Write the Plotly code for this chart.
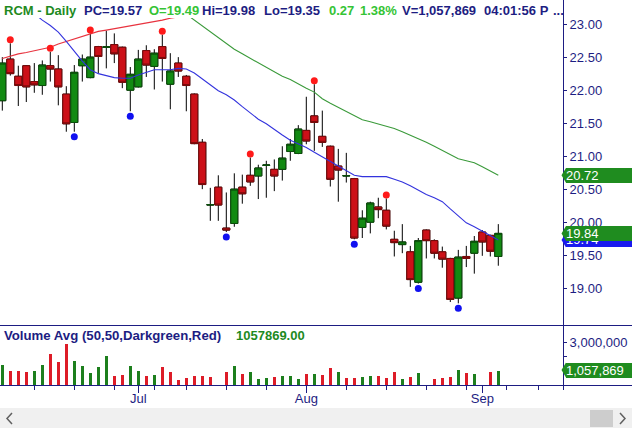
import plotly.graph_objects as go
import datetime as _dt

# ---------------- data ----------------
dates = ["2021-06-08","2021-06-09","2021-06-10","2021-06-11","2021-06-14","2021-06-15","2021-06-16",
         "2021-06-17","2021-06-18","2021-06-21","2021-06-22","2021-06-23","2021-06-24","2021-06-25",
         "2021-06-28","2021-06-29","2021-06-30","2021-07-01","2021-07-02","2021-07-06","2021-07-07",
         "2021-07-08","2021-07-09","2021-07-12","2021-07-13","2021-07-14","2021-07-15","2021-07-16",
         "2021-07-19","2021-07-20","2021-07-21","2021-07-22","2021-07-23","2021-07-26","2021-07-27",
         "2021-07-28","2021-07-29","2021-07-30","2021-08-02","2021-08-03","2021-08-04","2021-08-05",
         "2021-08-06","2021-08-09","2021-08-10","2021-08-11","2021-08-12","2021-08-13","2021-08-16",
         "2021-08-17","2021-08-18","2021-08-19","2021-08-20","2021-08-23","2021-08-24","2021-08-25",
         "2021-08-26","2021-08-27","2021-08-30","2021-08-31","2021-09-01","2021-09-02","2021-09-03"]
future_dates = ["2021-09-07","2021-09-08","2021-09-09","2021-09-10","2021-09-13","2021-09-14"]

opens = [21.85,22.48,22.22,22.38,22.14,22.08,22.38,22.33,21.95,21.52,22.38,22.20,22.67,22.66,
         22.70,22.66,22.01,22.06,22.61,22.37,22.67,22.10,22.42,22.22,21.95,21.22,20.27,20.54,
         19.92,19.99,20.54,20.72,20.71,20.87,20.81,20.81,21.08,21.05,21.40,21.62,21.31,21.16,
         20.86,20.71,20.67,19.93,20.01,20.24,20.19,19.75,19.67,19.56,19.10,19.89,19.73,19.56,
         19.46,18.86,19.49,19.54,19.86,19.81,19.49]
highs = [22.51,22.72,22.38,22.39,22.42,22.46,22.59,22.54,22.07,22.39,22.55,22.87,22.68,22.91,
         22.87,22.67,22.36,22.62,22.69,22.63,22.85,22.57,22.51,22.24,21.96,21.27,20.53,20.72,
         20.46,20.75,20.73,20.99,20.88,20.94,20.96,21.16,21.27,21.48,21.91,22.10,21.70,21.17,
         21.12,21.06,20.68,20.19,20.32,20.38,20.37,19.88,19.98,19.65,19.77,19.90,19.75,19.64,
         19.47,19.59,19.65,19.80,19.89,19.82,19.98]
lows = [21.70,22.23,21.77,21.83,21.97,21.94,22.14,21.78,21.38,21.38,22.14,22.19,22.27,22.34,
        22.42,22.04,21.69,22.05,22.21,22.02,22.14,21.72,22.21,21.69,21.19,20.51,20.03,20.03,
        19.86,19.94,20.29,20.56,20.36,20.38,20.48,20.64,20.94,21.04,21.19,21.09,21.15,20.55,
        20.32,20.61,19.75,19.77,19.84,20.07,19.90,19.49,19.54,19.03,19.08,19.46,19.46,19.32,
        18.80,18.78,19.33,19.23,19.50,19.49,19.35]
closes = [22.42,22.26,22.08,22.06,22.09,22.39,22.33,22.06,21.50,22.28,22.48,22.51,22.52,22.665,
          22.56,22.13,22.25,22.48,22.39,22.57,22.49,22.30,22.30,22.08,21.20,20.58,20.275,20.27,
          19.89,20.51,20.44,20.62,20.83,20.875,20.71,20.98,21.19,21.42,21.24,21.52,21.22,20.66,
          20.80,20.715,19.77,20.07,20.30,20.20,19.95,19.70,19.71,19.14,19.73,19.73,19.54,19.45,
          18.84,19.48,19.46,19.72,19.71,19.57,19.84]

# moving averages (None = outside the visible price window)
ma_blue = [23.56,23.47,23.38,23.27,23.17,23.07,22.99,22.89,22.75,22.60,22.45,22.32,22.26,22.23,
           22.20,22.19,22.19,22.24,22.28,22.32,22.32,22.32,22.34,22.33,22.27,22.18,22.09,22.00,
           21.94,21.86,21.76,21.67,21.57,21.50,21.41,21.33,21.25,21.20,21.14,21.07,21.00,20.93,
           20.86,20.79,20.72,20.70,20.70,20.70,20.70,20.66,20.62,20.56,20.49,20.43,20.38,20.32,
           20.21,20.10,20.00,19.94,19.87,19.81,19.74]
ma_green = [None]*23 + [23.16,23.07,22.98,22.89,22.81,22.72,22.63,22.56,22.49,22.42,22.35,22.28,
           22.22,22.17,22.10,22.04,21.98,21.88,21.81,21.75,21.69,21.63,21.56,21.53,21.50,21.47,
           21.43,21.38,21.33,21.28,21.22,21.16,21.10,21.03,20.97,20.94,20.91,20.85,20.78,20.72]
ma_red = [22.49,22.53,22.56,22.58,22.61,22.63,22.66,22.71,22.75,22.79,22.83,22.87,22.90,22.92,
          22.94,22.97,22.99,23.00,23.03,23.05,23.07,23.10,23.12] + [None]*40

pivot_highs = [1, 6, 11, 20, 31, 39, 48]
pivot_lows = [9, 16, 28, 44, 52, 57]

volumes = [1.48e6,1.05e6,1.00e6,0.93e6,1.00e6,1.48e6,2.24e6,1.67e6,2.90e6,1.71e6,1.36e6,0.88e6,
           1.29e6,2.07e6,0.69e6,0.76e6,1.36e6,1.00e6,0.69e6,0.71e6,1.29e6,0.93e6,0.36e6,0.52e6,
           0.64e6,0.64e6,0.57e6,None,0.95e6,1.36e6,0.81e6,0.93e6,0.45e6,0.52e6,0.57e6,0.69e6,
           0.69e6,0.48e6,0.81e6,0.81e6,0.76e6,1.24e6,0.93e6,0.52e6,0.52e6,0.60e6,0.64e6,0.64e6,
           0.52e6,0.95e6,0.45e6,0.60e6,0.88e6,None,0.45e6,0.52e6,0.60e6,1.07e6,0.88e6,0.81e6,
           None,0.95e6,1057869]
vol_up = [1,0,0,0,1,1,0,0,0,1,1,1,1,1,0,0,1,1,0,1,0,0,0,0,0,0,0,0,0,1,0,1,1,1,0,1,1,1,0,1,0,0,
          1,0,0,1,1,0,0,0,1,0,1,0,0,0,0,1,0,1,0,0,1]

price_ticks = [19.0, 19.5, 20.0, 20.5, 21.0, 21.5, 22.0, 22.5, 23.0]
last_close = 19.84
last_blue = 19.74
last_green = 20.72
last_volume = 1057869

header = [("RCM - Daily", 2, "dk"), ("PC=19.57", 82, "nv"), ("O=19.49", 147, "lt"),
          ("Hi=19.98", 200, "nv"), ("Lo=19.35", 262, "nv"), ("0.27", 327, "lt"),
          ("1.38%", 358, "lt"), ("V=1,057,869", 400, "nv"), ("04:01:56 P", 482, "nv"),
          ("...", 551, "nv")]

# ---------------- styles ----------------
FONT = "Liberation Sans, Arial, sans-serif"
NAVY = "#1d1d82"
DKGREEN = "#1e8a1e"
LTGREEN = "#35c435"
RED = "#cc1018"
RED_EDGE = "#7a0a0a"
GREEN = "#128a12"
GREEN_EDGE = "#0a4f0a"
VOL_GREEN = "#1d7f1d"
VOL_RED = "#dd1c28"
BOX_GREEN = "#1f8c1f"
BOX_BLUE = "#1a1aee"

W, H = 632, 428
ML, MR, MT, MB = 0, 69, 18, 43
PW = W - ML - MR          # 563
PH = H - MT - MB          # 367
BOTTOM_PX = H - MB        # 385

def px(xp):
    return xp / PW

def py(yp):
    return (BOTTOM_PX - yp) / PH

price_top, price_bot = 18, 325
vol_top, vol_bot = 325, 385

x_idx = list(range(len(dates)))
all_dates = dates + future_dates

# month / week tick positions derived from the date list
month_vals, month_text, week_vals = [], [], []
parsed = [_dt.date.fromisoformat(d) for d in all_dates]
for k in range(1, len(parsed)):
    if parsed[k].month != parsed[k - 1].month:
        month_vals.append(k)
        month_text.append(parsed[k].strftime("%b"))
    if parsed[k].isocalendar()[1] != parsed[k - 1].isocalendar()[1]:
        week_vals.append(k)

SPACING = 8.0   # px per session
x0 = -2.3 / SPACING
x1 = x0 + PW / SPACING

fig = go.Figure()

# wicks (black) + bodies
fig.add_trace(go.Candlestick(
    x=x_idx, open=opens, high=highs, low=lows, close=closes,
    increasing=dict(line=dict(color="black", width=1), fillcolor=GREEN),
    decreasing=dict(line=dict(color="black", width=1), fillcolor=RED),
    whiskerwidth=0, hoverinfo="skip", showlegend=False, xaxis="x", yaxis="y"))
body_hi = [max(o, c) for o, c in zip(opens, closes)]
body_lo = [min(o, c) for o, c in zip(opens, closes)]
fig.add_trace(go.Candlestick(
    x=x_idx, open=opens, high=body_hi, low=body_lo, close=closes,
    increasing=dict(line=dict(color=GREEN_EDGE, width=1), fillcolor=GREEN),
    decreasing=dict(line=dict(color=RED_EDGE, width=1), fillcolor=RED),
    whiskerwidth=0, hoverinfo="skip", showlegend=False, xaxis="x", yaxis="y"))

# moving averages
fig.add_trace(go.Scatter(x=x_idx, y=ma_red, mode="lines", line=dict(color="#e8333f", width=1.2),
                         hoverinfo="skip", showlegend=False, connectgaps=False))
fig.add_trace(go.Scatter(x=x_idx, y=ma_green, mode="lines", line=dict(color="#3a9a3a", width=1.1),
                         hoverinfo="skip", showlegend=False, connectgaps=False))
fig.add_trace(go.Scatter(x=x_idx, y=ma_blue, mode="lines", line=dict(color="#3333dd", width=1.1),
                         hoverinfo="skip", showlegend=False))

# pivot dots
UNIT = (price_bot - price_top) / (23.103 - 18.452)  # px per dollar
hi_off = 3.5 / UNIT
lo_off = 5.0 / UNIT
fig.add_trace(go.Scatter(x=pivot_highs, y=[highs[i] + hi_off for i in pivot_highs], mode="markers",
                         marker=dict(color="#ff1a1a", size=7), hoverinfo="skip", showlegend=False))
fig.add_trace(go.Scatter(x=pivot_lows, y=[lows[i] - lo_off for i in pivot_lows], mode="markers",
                         marker=dict(color="#1010f0", size=7), hoverinfo="skip", showlegend=False))

# volume
fig.add_trace(go.Bar(x=x_idx, y=volumes, width=0.3,
                     marker=dict(color=[VOL_GREEN if u else VOL_RED for u in vol_up], line=dict(width=0)),
                     hoverinfo="skip", showlegend=False, xaxis="x", yaxis="y2"))

shapes = []
line_style = dict(color=NAVY, width=1)
# pane borders
shapes.append(dict(type="line", xref="paper", yref="paper", x0=0, x1=px(W), y0=py(325.5), y1=py(325.5), line=line_style))
shapes.append(dict(type="line", xref="paper", yref="paper", x0=0, x1=px(W), y0=py(385.5), y1=py(385.5), line=line_style))
shapes.append(dict(type="line", xref="paper", yref="paper", x0=px(563.5), x1=px(563.5), y0=py(0), y1=py(390), line=line_style))

# arrow tips of the value boxes (the boxes themselves are annotations, drawn in order)
def value_tip(val, yref, half, color):
    path = f"M {px(561.5)},{val} L {px(566)},{val + half} L {px(566)},{val - half} Z"
    return dict(type="path", xref="paper", yref=yref, path=path, fillcolor=color,
                line=dict(width=0), layer="above")

ph = 7.4 / UNIT
vunit = (vol_bot - vol_top) / 4.2e6
shapes.append(value_tip(last_green, "y", ph, BOX_GREEN))
shapes.append(value_tip(last_blue, "y", ph, BOX_BLUE))
shapes.append(value_tip(last_close, "y", ph, BOX_GREEN))
shapes.append(value_tip(last_volume, "y2", 7.6 / vunit, BOX_GREEN))

# scrollbar
shapes.append(dict(type="rect", xref="paper", yref="paper", x0=px(0), x1=px(W), y0=py(408), y1=py(H + 2),
                   fillcolor="#f0f0f0", line=dict(width=0)))
shapes.append(dict(type="rect", xref="paper", yref="paper", x0=px(590), x1=px(613), y0=py(410), y1=py(427),
                   fillcolor="#cdcdcd", line=dict(width=0)))
shapes.append(dict(type="path", xref="paper", yref="paper",
                   path=f"M {px(12)},{py(413)} L {px(7)},{py(418.5)} L {px(12)},{py(424)}",
                   line=dict(color="#606060", width=1.5)))
shapes.append(dict(type="path", xref="paper", yref="paper",
                   path=f"M {px(620)},{py(413)} L {px(625)},{py(418.5)} L {px(620)},{py(424)}",
                   line=dict(color="#606060", width=1.5)))

annotations = []
cmap = {"dk": DKGREEN, "nv": NAVY, "lt": LTGREEN}
for text, xp, c in header:
    annotations.append(dict(text=f"<b>{text}</b>", x=px(xp), y=py(10.5), xref="paper", yref="paper",
                            xanchor="left", yanchor="middle", showarrow=False,
                            font=dict(family=FONT, size=13, color=cmap[c])))
annotations.append(dict(text="<b>Volume Avg (50,50,Darkgreen,Red)</b>", x=px(2), y=py(335.5), xref="paper",
                        yref="paper", xanchor="left", yanchor="middle", showarrow=False,
                        font=dict(family=FONT, size=13.2, color=NAVY)))
annotations.append(dict(text=f"<b>{last_volume:.2f}</b>", x=px(234), y=py(335.5), xref="paper",
                        yref="paper", xanchor="left", yanchor="middle", showarrow=False,
                        font=dict(family=FONT, size=13, color=DKGREEN)))

def value_box(val, yref, txt, color, hpx=15):
    return dict(text=txt, x=px(565.5), y=val, xref="paper", yref=yref, xanchor="left", yanchor="middle",
                width=W - 565, height=hpx, align="left", bgcolor=color, borderpad=0, borderwidth=0,
                showarrow=False, font=dict(family=FONT, size=13, color="white"))

annotations.append(value_box(last_green, "y", f"{last_green:.2f}", BOX_GREEN))
annotations.append(value_box(last_blue, "y", f"{last_blue:.2f}", BOX_BLUE))
annotations.append(value_box(last_close, "y", f"{last_close:.2f}", BOX_GREEN))
annotations.append(value_box(last_volume, "y2", f"{last_volume:,}", BOX_GREEN, 15))

axis_font = dict(family=FONT, size=13, color=NAVY)
fig.update_layout(
    width=W, height=H, margin=dict(l=ML, r=MR, t=MT, b=MB, pad=0),
    paper_bgcolor="white", plot_bgcolor="white", showlegend=False,
    boxgap=0.125, boxgroupgap=0, bargap=0,
    xaxis=dict(domain=[0, 1], anchor="y2", range=[x0, x1], tickmode="array",
               tickvals=month_vals, ticktext=month_text, ticks="outside", ticklen=7, tickwidth=1,
               tickcolor=NAVY, tickfont=axis_font, showgrid=False, zeroline=False, showline=False,
               ticklabelstandoff=-6,
               minor=dict(tickmode="array", tickvals=week_vals, ticks="outside", ticklen=4,
                          tickwidth=1, tickcolor=NAVY, showgrid=False),
               rangeslider=dict(visible=False), fixedrange=True),
    yaxis=dict(domain=[py(price_bot), py(price_top)], anchor="x", side="right",
               range=[18.452, 23.103], tickmode="array", tickvals=price_ticks,
               ticktext=[f"{v:.2f}" for v in price_ticks], ticks="outside", ticklen=3, tickwidth=1,
               tickcolor=NAVY, tickfont=axis_font, showgrid=False, zeroline=False, showline=False,
               fixedrange=True),
    yaxis2=dict(domain=[py(vol_bot), py(vol_top + 0.5)], anchor="x", side="right",
                range=[0, 4.2e6], tickmode="array", tickvals=[2e6, 3e6], ticktext=["", "3,000,000"],
                ticks="outside", ticklen=3, tickwidth=1, tickcolor=NAVY, tickfont=axis_font,
                showgrid=False, zeroline=False, showline=False, fixedrange=True),
    shapes=shapes, annotations=annotations,
)

fig.write_html("out.html", config={"displayModeBar": False},
               post_script="document.body.style.margin='0';document.body.style.overflow='hidden';")
